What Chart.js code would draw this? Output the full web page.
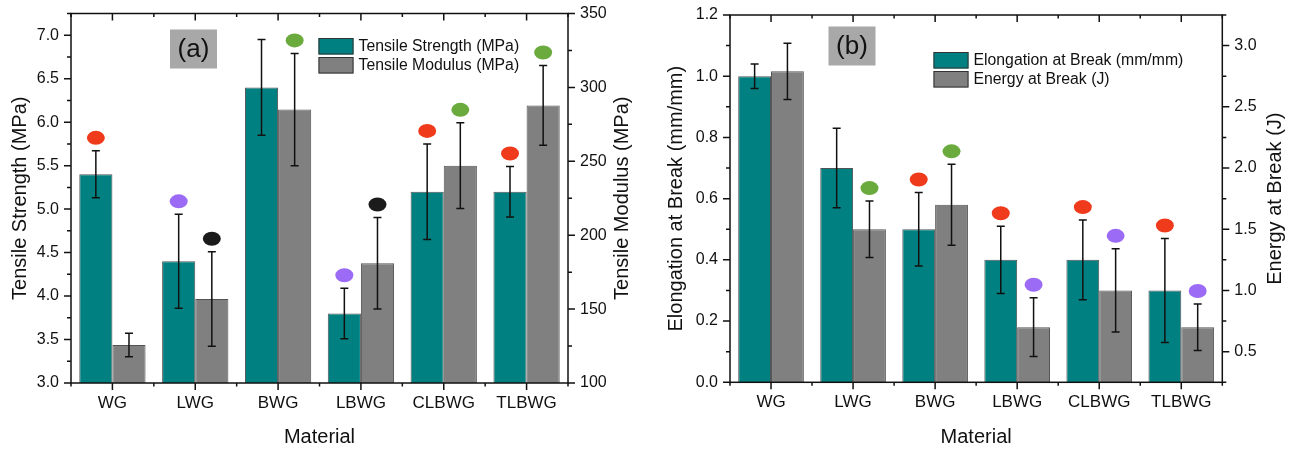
<!DOCTYPE html>
<html>
<head>
<meta charset="utf-8">
<script src="https://cdn.jsdelivr.net/npm/chart.js@4.4.1/dist/chart.umd.min.js"></script>
<style>
  html, body { margin: 0; padding: 0; background: #fff; }
  #wrap { position: relative; width: 1297px; height: 449px; overflow: hidden; }
  canvas { position: absolute; top: 0; }
  #chartA { left: 0; }
  #chartB { left: 648px; }
</style>
</head>
<body>
<div id="wrap">
  <canvas id="chartA" width="648" height="449"></canvas>
  <canvas id="chartB" width="649" height="449"></canvas>
</div>
<script>
// Materials tested
const materials = ['WG', 'LWG', 'BWG', 'LBWG', 'CLBWG', 'TLBWG'];

// (a) tensile properties, mean and standard deviation
const tensileStrength    = [5.40, 4.40, 6.40, 3.80, 5.20, 5.20];        // MPa
const tensileStrengthErr = [0.27, 0.54, 0.55, 0.29, 0.55, 0.29];
const tensileModulus     = [125.7, 156.8, 285.0, 181.0, 247.0, 287.8];  // MPa
const tensileModulusErr  = [8, 32, 38, 31, 29, 27];

// (b) elongation and energy at break
const elongation    = [1.00, 0.70, 0.50, 0.40, 0.40, 0.30];  // mm/mm
const elongationErr = [0.04, 0.13, 0.12, 0.11, 0.13, 0.17];
const energy        = [2.79, 1.50, 1.70, 0.70, 1.00, 0.70];  // J
const energyErr     = [0.23, 0.23, 0.33, 0.24, 0.34, 0.19];

// statistical group dots above each bar (null = no dot)
const strengthGroups   = ['red', 'purple', null, 'purple', 'red', 'red'];
const modulusGroups    = [null, 'black', 'green', 'black', 'green', 'green'];
const elongationGroups = [null, null, 'red', 'red', 'red', 'red'];
const energyGroups     = [null, 'green', 'green', 'purple', 'purple', 'purple'];

// axis ranges [min, max, step]
const strengthAxis   = [3, 7.25, 0.5];
const modulusAxis    = [100, 350, 50];
const elongationAxis = [0, 1.2, 0.2];
const energyAxis     = [0.25, 3.25, 0.5];

const TEAL = '#008080';
const GREY = '#808080';
const INK = '#111';
const FONT = '"Liberation Sans", Arial, sans-serif';
const groupColors = { red: '#ef3a1b', purple: '#9b6bf5', green: '#6bab3e', black: '#1b1b1b' };

Chart.defaults.font.family = FONT;
Chart.defaults.color = INK;

// error bars plus the coloured group dot sitting above each cap
const errorBars = {
  id: 'errorBars',
  afterDatasetsDraw(chart) {
    const ctx = chart.ctx;
    chart.data.datasets.forEach((ds, i) => {
      const meta = chart.getDatasetMeta(i);
      const yScale = chart.scales[ds.yAxisID];
      meta.data.forEach((bar, j) => {
        const v = ds.data[j], e = ds.errors[j];
        const top = yScale.getPixelForValue(v + e);
        const bot = yScale.getPixelForValue(v - e);
        ctx.save();
        ctx.strokeStyle = INK;
        ctx.lineWidth = 1.5;
        ctx.beginPath();
        ctx.moveTo(bar.x, top); ctx.lineTo(bar.x, bot);
        ctx.moveTo(bar.x - 4, top); ctx.lineTo(bar.x + 4, top);
        ctx.moveTo(bar.x - 4, bot); ctx.lineTo(bar.x + 4, bot);
        ctx.stroke();
        const g = ds.groups[j];
        if (g) {
          ctx.fillStyle = groupColors[g];
          ctx.beginPath();
          ctx.ellipse(bar.x, top - 13, 9, 7, 0, 0, Math.PI * 2);
          ctx.fill();
        }
        ctx.restore();
      });
    });
  }
};

// box frame with major/minor tick marks on all four sides
const frameTicks = {
  id: 'frameTicks',
  afterDraw(chart) {
    const { ctx, chartArea: a } = chart;
    ctx.save();
    ctx.strokeStyle = INK;
    ctx.lineWidth = 1.5;
    ctx.strokeRect(a.left, a.top, a.right - a.left, a.bottom - a.top);
    ctx.beginPath();
    const x = chart.scales.x;
    const n = x.ticks.length;
    for (let i = 0; i < n; i++) {
      const px = x.getPixelForTick(i);
      ctx.moveTo(px, a.bottom); ctx.lineTo(px, a.bottom + 7);
      ctx.moveTo(px, a.top); ctx.lineTo(px, a.top + 7);
    }
    for (let i = 0; i <= n; i++) {
      const px = a.left + (a.right - a.left) * i / n;
      ctx.moveTo(px, a.bottom); ctx.lineTo(px, a.bottom + 3.5);
      ctx.moveTo(px, a.top); ctx.lineTo(px, a.top + 3.5);
    }
    ['yL', 'yR'].forEach(id => {
      const s = chart.scales[id];
      const dir = s.options.position === 'left' ? -1 : 1;
      const edge = dir < 0 ? a.left : a.right;
      const step = s.options.ticks.stepSize;
      const half = step / 2;
      for (let k = 0; s.min + k * half <= s.max + 1e-9; k++) {
        const v = s.min + k * half;
        const major = Math.abs(v / step - Math.round(v / step)) < 1e-6;
        const py = s.getPixelForValue(v);
        ctx.moveTo(edge, py);
        ctx.lineTo(edge + dir * (major ? 7 : 4), py);
      }
    });
    ctx.stroke();
    ctx.restore();
  }
};

// legend box, panel tag and right-hand axis title
const decorations = {
  id: 'decorations',
  afterDraw(chart, args, opts) {
    const ctx = chart.ctx;
    ctx.save();
    // panel tag
    const t = opts.tag;
    ctx.fillStyle = '#a8a8a8';
    ctx.fillRect(t.x, t.y, t.w, t.h);
    ctx.fillStyle = INK;
    ctx.font = '26px ' + FONT;
    ctx.textAlign = 'center';
    ctx.textBaseline = 'middle';
    ctx.fillText(t.text, t.x + t.w / 2, t.y + t.h / 2 + 1);
    // legend
    const L = opts.legend;
    ctx.font = '15.8px ' + FONT;
    ctx.textAlign = 'left';
    chart.data.datasets.forEach((ds, i) => {
      const y = L.y + i * L.gap;
      ctx.fillStyle = ds.backgroundColor;
      ctx.fillRect(L.x, y, 35, 16.5);
      ctx.strokeStyle = '#333';
      ctx.lineWidth = 1;
      ctx.strokeRect(L.x + 0.5, y + 0.5, 34, 15.5);
      ctx.fillStyle = INK;
      ctx.fillText(ds.label, L.x + 40, y + 8.5);
    });
    // right axis title, reading bottom to top
    const a = chart.chartArea;
    ctx.font = '20px ' + FONT;
    ctx.textAlign = 'center';
    ctx.translate(opts.rightTitleX, (a.top + a.bottom) / 2);
    ctx.rotate(-Math.PI / 2);
    ctx.fillText(opts.rightTitle, 0, 0);
    ctx.restore();
  }
};

// pin an axis box to a fixed size and drop the label overhang padding
function fixedWidth(w) {
  return scale => { scale.width = w; scale.paddingTop = 0; scale.paddingBottom = 0; };
}
function fixedHeight(h) {
  return scale => { scale.height = h; scale.paddingLeft = 0; scale.paddingRight = 0; };
}

// labelled ticks only on whole multiples of the step
function stepTicks(axis) {
  return scale => {
    const [min, max, step] = axis;
    const ticks = [];
    for (let k = Math.ceil(min / step - 1e-9); k * step <= max + 1e-9; k++) {
      ticks.push({ value: +(k * step).toFixed(6) });
    }
    scale.ticks = ticks;
  };
}

function makePanel(id, p) {
  const oneDecimal = v => v.toFixed(1);
  return new Chart(document.getElementById(id), {
    type: 'bar',
    data: {
      labels: materials,
      datasets: [
        { label: p.names[0], data: p.left, errors: p.leftErr, groups: p.leftGroups, yAxisID: 'yL',
          backgroundColor: TEAL, borderColor: 'rgba(40,40,40,0.8)', borderWidth: 1 },
        { label: p.names[1], data: p.right, errors: p.rightErr, groups: p.rightGroups, yAxisID: 'yR',
          backgroundColor: GREY, borderColor: 'rgba(40,40,40,0.8)', borderWidth: 1 }
      ]
    },
    options: {
      responsive: false,
      animation: false,
      events: [],
      layout: { padding: { top: p.area.top, left: 0, right: 0, bottom: 0 } },
      datasets: { bar: { categoryPercentage: 0.8, barPercentage: 1.0 } },
      scales: {
        x: {
          grid: { display: false, drawTicks: false }, border: { display: false },
          ticks: { font: { size: 17 }, padding: 10, color: INK },
          title: { display: true, text: 'Material', font: { size: 20 }, padding: { top: p.xTitlePad, bottom: 0 }, color: INK },
          afterFit: fixedHeight(449 - p.area.bottom)
        },
        yL: {
          position: 'left',
          min: p.leftAxis[0], max: p.leftAxis[1],
          grid: { display: false, drawTicks: false }, border: { display: false },
          ticks: { stepSize: p.leftAxis[2], font: { size: 16 }, padding: 12, color: INK,
                   callback: oneDecimal },
          afterBuildTicks: stepTicks(p.leftAxis),
          title: { display: true, text: p.leftTitle, font: { size: 20 }, padding: { top: p.leftTitlePad, bottom: 0 }, color: INK },
          afterFit: fixedWidth(p.area.left)
        },
        yR: {
          position: 'right',
          min: p.rightAxis[0], max: p.rightAxis[1],
          grid: { display: false, drawTicks: false }, border: { display: false },
          ticks: { stepSize: p.rightAxis[2], font: { size: 16 }, padding: 12, color: INK,
                   callback: p.rightFormat },
          afterBuildTicks: stepTicks(p.rightAxis),
          afterFit: fixedWidth(p.width - p.area.right)
        }
      },
      plugins: {
        legend: { display: false },
        tooltip: { enabled: false },
        decorations: { tag: p.tag, legend: p.legend, rightTitle: p.rightTitle, rightTitleX: p.rightTitleX }
      }
    },
    plugins: [errorBars, frameTicks, decorations]
  });
}

makePanel('chartA', {
  width: 648,
  area: { left: 71, top: 13.5, right: 568, bottom: 383 },
  names: ['Tensile Strength (MPa)', 'Tensile Modulus (MPa)'],
  left: tensileStrength, leftErr: tensileStrengthErr, leftGroups: strengthGroups,
  right: tensileModulus, rightErr: tensileModulusErr, rightGroups: modulusGroups,
  leftAxis: strengthAxis, rightAxis: modulusAxis,
  rightFormat: v => String(v),
  leftTitle: 'Tensile Strength (MPa)', leftTitlePad: 8,
  rightTitle: 'Tensile Modulus (MPa)', rightTitleX: 622,
  xTitlePad: 2,
  tag: { text: '(a)', x: 170, y: 29.5, w: 47, h: 39 },
  legend: { x: 318.5, y: 38, gap: 19 }
});

makePanel('chartB', {
  width: 649,
  area: { left: 82, top: 15, right: 574.3, bottom: 382.3 },
  names: ['Elongation at Break (mm/mm)', 'Energy at Break (J)'],
  left: elongation, leftErr: elongationErr, leftGroups: elongationGroups,
  right: energy, rightErr: energyErr, rightGroups: energyGroups,
  leftAxis: elongationAxis, rightAxis: energyAxis,
  rightFormat: v => v.toFixed(1),
  leftTitle: 'Elongation at Break (mm/mm)', leftTitlePad: 16.5,
  rightTitle: 'Energy at Break (J)', rightTitleX: 627,
  xTitlePad: 4,
  tag: { text: '(b)', x: 180.5, y: 26.5, w: 47, h: 39 },
  legend: { x: 285.5, y: 52, gap: 19 }
});
</script>
</body>
</html>
